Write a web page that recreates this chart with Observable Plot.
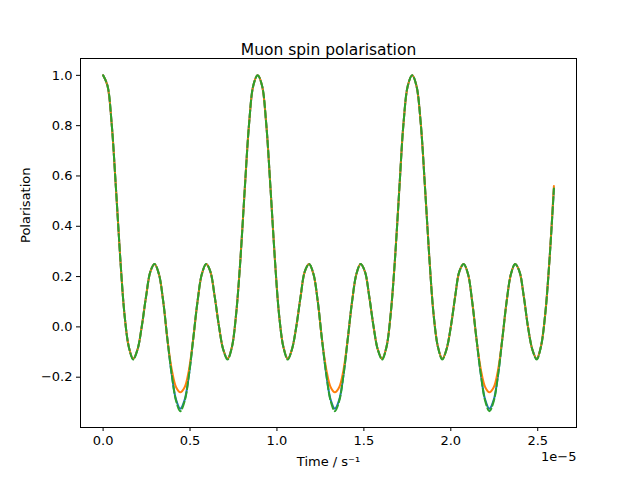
<!DOCTYPE html>
<html>
<head>
<meta charset="utf-8">
<script src="https://cdn.jsdelivr.net/npm/d3@7"></script>
<script src="https://cdn.jsdelivr.net/npm/@observablehq/plot@0.6"></script>
<style>
  body { margin: 0; background: #fff; }
  #chart { position: relative; width: 640px; height: 480px; }
  #chart svg { font-family: "DejaVu Sans", sans-serif; }
</style>
</head>
<body>
<div id="chart"></div>
<script>
// time in units of 1e-5 s
const time = [0.000,0.025,0.049,0.074,0.099,0.123,0.148,0.173,0.198,0.222,0.247,0.272,0.296,0.321,0.346,0.370,0.395,0.420,0.444,0.469,0.494,0.518,0.543,0.568,0.593,0.617,0.642,0.667,0.691,0.716,0.741,0.765,0.790,0.815,0.840,0.864,
  0.889,0.914,0.938,0.963,0.988,1.012,1.037,1.062,1.086,1.111,1.136,1.160,1.185,1.210,1.235,1.259,1.284,1.309,1.333,1.358,1.383,1.407,1.432,1.457,1.481,1.506,1.531,1.556,1.580,1.605,1.630,1.654,1.679,1.704,1.728,1.753,
  1.778,1.802,1.827,1.852,1.877,1.901,1.926,1.951,1.975,2.000,2.025,2.049,2.074,2.099,2.123,2.148,2.173,2.198,2.222,2.247,2.272,2.296,2.321,2.346,2.370,2.395,2.420,2.444,2.469,2.494,2.518,2.543,2.568,2.593];

const blue = [1.0,0.96,0.81,0.55,0.27,0.05,-0.08,-0.127,-0.09,0.0,0.12,0.22,0.25,0.21,0.10,-0.05,-0.19,-0.29,-0.325,-0.29,-0.19,-0.05,0.10,0.21,0.25,0.22,0.12,0.0,-0.09,-0.127,-0.08,0.05,0.27,0.55,0.81,0.96,
  1.0,0.96,0.81,0.55,0.27,0.05,-0.08,-0.127,-0.09,0.0,0.12,0.22,0.25,0.21,0.10,-0.05,-0.19,-0.29,-0.325,-0.29,-0.19,-0.05,0.10,0.21,0.25,0.22,0.12,0.0,-0.09,-0.127,-0.08,0.05,0.27,0.55,0.81,0.96,
  1.0,0.96,0.81,0.55,0.27,0.05,-0.08,-0.127,-0.09,0.0,0.12,0.22,0.25,0.21,0.10,-0.05,-0.19,-0.29,-0.325,-0.29,-0.19,-0.05,0.10,0.21,0.25,0.22,0.12,0.0,-0.09,-0.127,-0.08,0.05,0.27,0.55];

const orange = [1.0,0.96,0.81,0.55,0.27,0.05,-0.08,-0.127,-0.09,0.0,0.12,0.22,0.25,0.21,0.10,-0.05,-0.17,-0.24,-0.26,-0.24,-0.17,-0.05,0.10,0.21,0.25,0.22,0.12,0.0,-0.09,-0.127,-0.08,0.05,0.27,0.55,0.81,0.96,
  1.0,0.96,0.81,0.55,0.27,0.05,-0.08,-0.127,-0.09,0.0,0.12,0.22,0.25,0.21,0.10,-0.05,-0.17,-0.24,-0.26,-0.24,-0.17,-0.05,0.10,0.21,0.25,0.22,0.12,0.0,-0.09,-0.127,-0.08,0.05,0.27,0.55,0.81,0.96,
  1.0,0.96,0.81,0.55,0.27,0.05,-0.08,-0.127,-0.09,0.0,0.12,0.22,0.25,0.21,0.10,-0.05,-0.17,-0.24,-0.26,-0.24,-0.17,-0.05,0.10,0.21,0.25,0.22,0.12,0.0,-0.09,-0.127,-0.08,0.05,0.27,0.56];

const green = [1.0,0.96,0.81,0.55,0.27,0.05,-0.08,-0.13,-0.09,0.0,0.12,0.22,0.25,0.21,0.10,-0.05,-0.19,-0.295,-0.335,-0.295,-0.19,-0.05,0.10,0.21,0.25,0.22,0.12,0.0,-0.09,-0.13,-0.08,0.05,0.27,0.55,0.81,0.96,
  1.0,0.96,0.81,0.55,0.27,0.05,-0.08,-0.13,-0.09,0.0,0.12,0.22,0.25,0.21,0.10,-0.05,-0.19,-0.295,-0.335,-0.295,-0.19,-0.05,0.10,0.21,0.25,0.22,0.12,0.0,-0.09,-0.13,-0.08,0.05,0.27,0.55,0.81,0.96,
  1.0,0.96,0.81,0.55,0.27,0.05,-0.08,-0.13,-0.09,0.0,0.12,0.22,0.25,0.21,0.10,-0.05,-0.19,-0.295,-0.335,-0.295,-0.19,-0.05,0.10,0.21,0.25,0.22,0.12,0.0,-0.09,-0.13,-0.08,0.05,0.27,0.55];

const xTicks = [0, 0.5, 1.0, 1.5, 2.0, 2.5];
const yTicks = [-0.2, 0, 0.2, 0.4, 0.6, 0.8, 1.0];

const rows = ys => time.map((t, i) => ({t, p: ys[i]}));

const p = Plot.plot({
  width: 640,
  height: 480,
  marginLeft: 80,
  marginRight: 64,
  marginTop: 58,
  marginBottom: 53,
  style: {fontSize: "13px", background: "#fff", color: "#000"},
  x: {domain: [-0.13, 2.723], ticks: xTicks, tickFormat: d3.format(".1f")},
  y: {domain: [-0.40, 1.067], ticks: yTicks, tickFormat: d3.format(".1f")},
  marks: [
    Plot.line(rows(blue), {x: "t", y: "p", stroke: "#1f77b4", strokeWidth: 2, curve: "catmull-rom"}),
    Plot.line(rows(orange), {x: "t", y: "p", stroke: "#ff7f0e", strokeWidth: 2, curve: "catmull-rom"}),
    Plot.line(rows(green), {x: "t", y: "p", stroke: "#2ca02c", strokeWidth: 2, strokeDasharray: "7,3", curve: "catmull-rom"}),
    Plot.frame({stroke: "#000", strokeWidth: 1}),
    Plot.axisX({ticks: xTicks, tickSize: 4, tickPadding: 4, tickFormat: d3.format(".1f"), label: null}),
    Plot.axisY({ticks: yTicks, tickSize: 4, tickPadding: 4, tickFormat: d => d3.format(".1f")(d).replace("-", "\u2212"), label: null}),
    Plot.text(["Time / s\u207B\u00B9"], {frameAnchor: "bottom", dy: 38, fontSize: 13}),
    Plot.text(["Polarisation"], {frameAnchor: "left", dx: -55, rotate: -90, fontSize: 13}),
    Plot.text(["Muon spin polarisation"], {frameAnchor: "top", dy: -15, fontSize: 15.5}),
    Plot.text(["1e\u22125"], {frameAnchor: "bottom-right", dy: 33, textAnchor: "end", fontSize: 13})
  ]
});

document.getElementById("chart").append(p);
</script>
</body>
</html>
